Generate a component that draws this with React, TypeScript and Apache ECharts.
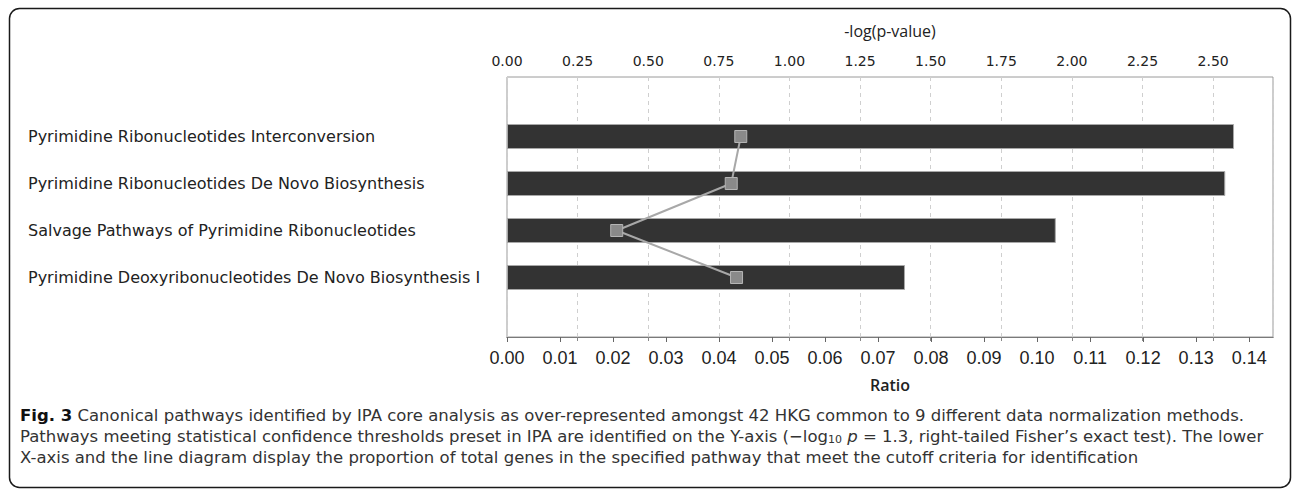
import { useEffect, useRef } from 'react';
import * as echarts from 'echarts';

const pathways = [
  'Pyrimidine Ribonucleotides Interconversion',
  'Pyrimidine Ribonucleotides De Novo Biosynthesis',
  'Salvage Pathways of Pyrimidine Ribonucleotides',
  'Pyrimidine Deoxyribonucleotides De Novo Biosynthesis I',
];
const negLogP = [2.574, 2.543, 1.943, 1.409];
const ratio = [0.0441, 0.0423, 0.0207, 0.0433];

const pMin = 0;
const pMax = 2.712;
const pInterval = 0.25;
const ratioMin = 0;
const ratioMax = 0.1445;
const ratioInterval = 0.01;

const topAxisName = '-log(p-value)';
const bottomAxisName = 'Ratio';

const captionLines = [
  '{b|Fig. 3} Canonical pathways identified by IPA core analysis as over-represented amongst 42 HKG common to 9 different data normalization methods.',
  'Pathways meeting statistical confidence thresholds preset in IPA are identified on the Y-axis (\u2212log{s|10} {i|p} = 1.3, right-tailed Fisher\u2019s exact test). The lower',
  'X-axis and the line diagram display the proportion of total genes in the specified pathway that meet the cutoff criteria for identification',
];

const W = 1292;
const H = 492;
const plotLeft = 507;
const plotRight = 1273;
const plotTop = 77;
const plotBottom = 337;
const rowsTop = 113;
const rowsBottom = 301;

export default function App() {
  const ref = useRef<HTMLDivElement>(null);
  useEffect(() => {
    if (!ref.current) return;
    const chart = echarts.init(ref.current, null, { renderer: 'svg' });
    const fix2 = (v: number) => Number(v).toFixed(2);
    const nameFont = '"Open Sans", "Noto Sans", sans-serif';
    const capFont = '"DejaVu Sans", Verdana, sans-serif';
    const capSize = 16.5;
    const capLH = 21;
    chart.setOption({
      animation: false,
      backgroundColor: '#ffffff',
      grid: [
        {
          left: plotLeft,
          right: W - plotRight,
          top: plotTop,
          bottom: H - plotBottom,
          show: true,
          borderColor: '#9a9a9a',
          borderWidth: 1,
          containLabel: false,
          outerBoundsMode: 'none',
        },
        {
          left: plotLeft,
          right: W - plotRight,
          top: rowsTop,
          bottom: H - rowsBottom,
          containLabel: false,
          outerBoundsMode: 'none',
        },
      ],
      xAxis: [
        {
          gridIndex: 0,
          type: 'value',
          position: 'top',
          min: pMin,
          max: pMax,
          interval: pInterval,
          name: topAxisName,
          nameLocation: 'middle',
          nameGap: 38,
          nameTextStyle: { fontFamily: nameFont, fontSize: 16, color: '#222' },
          axisLine: { show: true, lineStyle: { color: '#7a7a7a', width: 1 } },
          axisTick: { show: true, inside: true, length: 4, lineStyle: { color: '#888' } },
          axisLabel: {
            show: true,
            showMaxLabel: false,
            margin: 9,
            formatter: fix2,
            fontFamily: '"DejaVu Sans", Verdana, sans-serif',
            fontSize: 14,
            color: '#222',
          },
          splitLine: { show: true, lineStyle: { color: '#cfcfcf', type: [4, 4], width: 1 } },
        },
        {
          gridIndex: 0,
          type: 'value',
          position: 'bottom',
          min: ratioMin,
          max: ratioMax,
          interval: ratioInterval,
          name: bottomAxisName,
          nameLocation: 'middle',
          nameGap: 40,
          nameTextStyle: { fontFamily: nameFont, fontSize: 16, fontWeight: 600, color: '#222' },
          axisLine: { show: true, lineStyle: { color: '#7a7a7a', width: 1 } },
          axisTick: { show: true, inside: false, length: 5, lineStyle: { color: '#666' } },
          axisLabel: {
            show: true,
            showMaxLabel: false,
            margin: 12,
            formatter: fix2,
            fontFamily: '"Liberation Sans", Arial, sans-serif',
            fontSize: 18,
            color: '#222',
          },
          splitLine: { show: false },
        },
        {
          gridIndex: 1,
          type: 'value',
          position: 'top',
          min: pMin,
          max: pMax,
          show: false,
        },
        {
          gridIndex: 1,
          type: 'value',
          position: 'bottom',
          min: ratioMin,
          max: ratioMax,
          show: false,
        },
      ],
      yAxis: [
        { gridIndex: 0, type: 'value', min: 0, max: 1, show: false },
        {
          gridIndex: 1,
          type: 'category',
          inverse: true,
          data: pathways,
          axisLine: { show: false },
          axisTick: { show: false },
          splitLine: { show: false },
          axisLabel: {
            align: 'left',
            margin: plotLeft - 28,
            fontFamily: '"DejaVu Sans", Verdana, sans-serif',
            fontSize: 16,
            color: '#222',
          },
        },
      ],
      series: [
        {
          type: 'bar',
          xAxisIndex: 2,
          yAxisIndex: 1,
          data: negLogP,
          barWidth: 25,
          itemStyle: { color: '#333333', borderColor: '#a8a8a8', borderWidth: 1 },
          z: 2,
        },
        {
          type: 'line',
          xAxisIndex: 3,
          yAxisIndex: 1,
          data: ratio,
          symbol: 'rect',
          symbolSize: 12,
          lineStyle: { color: '#a8a8a8', width: 2 },
          itemStyle: { color: '#8a8a8a', borderColor: '#b5b5b5', borderWidth: 1 },
          z: 5,
        },
      ],
      graphic: [
        {
          type: 'rect',
          shape: { x: 9.5, y: 8.5, width: 1281, height: 479, r: 10 },
          style: { fill: 'none', stroke: '#1a1a1a', lineWidth: 1.5 },
          silent: true,
          z: -1,
        },
        ...captionLines.map((t, i) => ({
          type: 'text',
          x: 20,
          y: 415 + i * capLH,
          style: {
            text: t,
            fontFamily: capFont,
            fontSize: capSize,
            lineHeight: 20,
            fill: '#333',
            verticalAlign: 'middle',
            rich: {
              b: { fontFamily: capFont, fontSize: capSize, lineHeight: 20, fontWeight: 700, fill: '#111' },
              s: { fontFamily: capFont, fontSize: 11, lineHeight: 11, fill: '#333', padding: [7, 0, 0, 0] },
              i: { fontFamily: capFont, fontSize: capSize, lineHeight: 20, fontStyle: 'italic', fill: '#333' },
            },
          },
          silent: true,
        })),
      ],
    });
    return () => chart.dispose();
  }, []);
  return (
    <div
      ref={ref}
      style={{ position: 'absolute', left: 0, top: 0, width: W, height: H, background: '#fff' }}
    />
  );
}
